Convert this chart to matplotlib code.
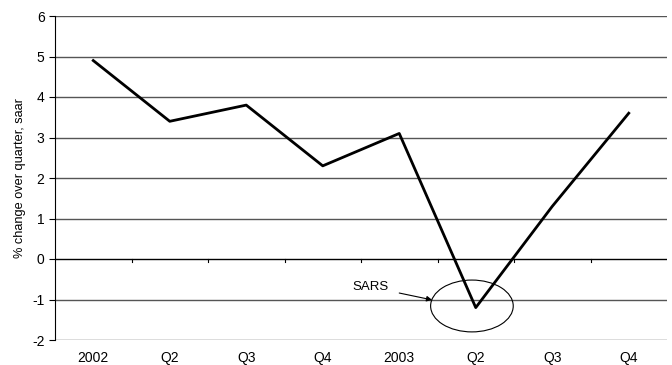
import matplotlib
matplotlib.use("Agg")
import matplotlib.pyplot as plt
from matplotlib.patches import Ellipse

plt.rcParams["font.family"] = ["Liberation Sans", "DejaVu Sans"]
plt.rcParams["axes.unicode_minus"] = False

labels = ["2002", "Q2", "Q3", "Q4", "2003", "Q2", "Q3", "Q4"]
growth = [4.9, 3.4, 3.8, 2.3, 3.1, -1.2, 1.3, 3.6]

fig = plt.figure(figsize=(6.72, 3.65), dpi=100)
ax = fig.add_axes([55 / 672, 1 - 340 / 365, 612 / 672, 324 / 365])

x = list(range(len(labels)))
ax.plot(x, growth, color="black", lw=2, zorder=3)

ax.set_xlim(-0.5, len(labels) - 0.5)
ax.set_ylim(-2, 6)
ax.set_yticks(range(-2, 7))
for y in range(-2, 7):
    ax.axhline(y, color="#555555" if y != 0 else "black", lw=1, zorder=1)

# category ticks on the zero line
for b in range(1, len(labels)):
    ax.plot([b - 0.5, b - 0.5], [0, -0.08], color="black", lw=0.8, zorder=2)

ax.set_xticks(x)
ax.set_xticklabels(labels)
ax.tick_params(axis="x", length=0, pad=8, labelsize=10)
ax.tick_params(axis="y", length=4, labelsize=10)
for s in ["top", "right", "bottom"]:
    ax.spines[s].set_visible(False)
ax.spines["left"].set_color("black")

ax.set_ylabel("% change over quarter, saar", fontsize=9.2)
ax.yaxis.set_label_coords(-0.048, 0.5)

ax.add_patch(Ellipse((4.95, -1.16), 1.08, 1.28, fill=False, color="black", lw=0.8, zorder=4))
ax.annotate("SARS", xy=(4.43, -1.01), xytext=(3.62, -0.69), fontsize=9.5,
            ha="center", va="center",
            arrowprops=dict(arrowstyle="-|>", color="black", lw=0.8,
                            shrinkA=6, shrinkB=0, mutation_scale=8))

fig.savefig("out.png", dpi=100)
